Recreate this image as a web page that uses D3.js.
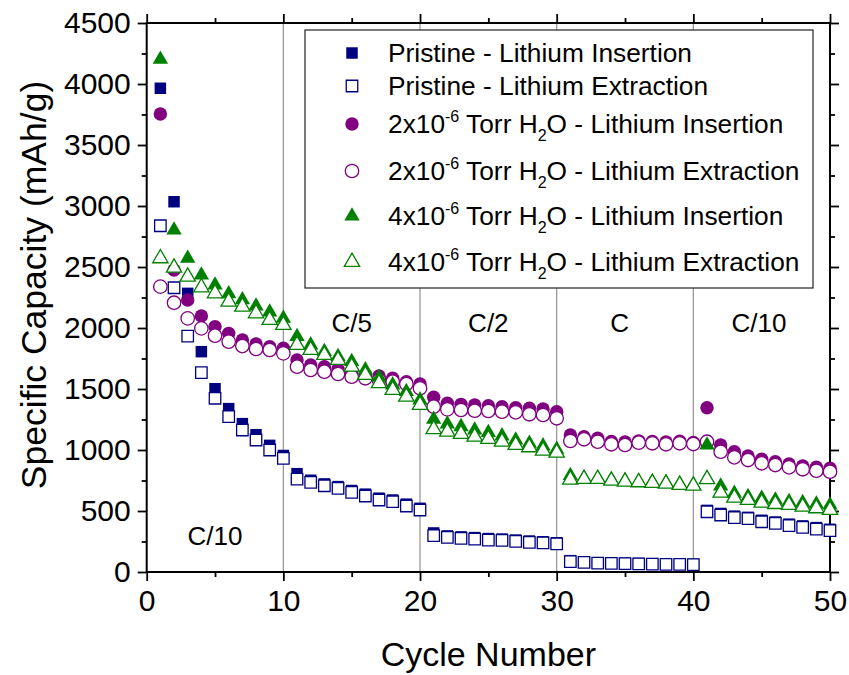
<!DOCTYPE html>
<html>
<head>
<meta charset="utf-8">
<script src="https://cdn.jsdelivr.net/npm/d3@7/dist/d3.min.js"></script>
<style>
  html, body { margin: 0; padding: 0; background: #fff; }
  svg text { font-family: "Liberation Sans", Arial, sans-serif; fill: #000; }
</style>
</head>
<body>
<svg id="chart" width="849" height="675"></svg>
<script>
// Cycle numbers (x) and capacities in mAh/g for each series
const cycles = [1,2,3,4,5,6,7,8,9,10,11,12,13,14,15,16,17,18,19,20,21,22,23,24,25,26,27,28,29,30,31,32,33,34,35,36,37,38,39,40,41,42,43,44,45,46,47,48,49,50];

const pristineInsertion = [3965, 3035, 2284, 1806, 1502, 1339, 1216, 1125, 1038, 955,
  806, 752, 722, 700, 668, 638, 605, 590, 556, 522,
  320, 296, 288, 282, 274, 270, 262, 254, 248, 240,
  93, 82, 76, 74, 72, 70, 68, 66, 65, 63,
  505, 480, 458, 448, 424, 410, 392, 378, 364, 350];
const pristineExtraction = [2838, 2330, 1934, 1634, 1424, 1273, 1164, 1082, 1000, 932,
  762, 735, 707, 686, 653, 623, 590, 576, 541, 508,
  298, 284, 276, 270, 262, 259, 251, 243, 238, 230,
  85, 79, 72, 70, 68, 66, 65, 63, 62, 60,
  494, 467, 445, 437, 412, 399, 380, 366, 352, 339];
const torr2Insertion = [3754, 2475, 2230, 2098, 2011, 1956, 1902, 1869, 1847, 1834,
  1738, 1697, 1683, 1661, 1634, 1615, 1607, 1588, 1560, 1541,
  1432, 1383, 1374, 1369, 1363, 1355, 1347, 1342, 1336, 1314,
  1123, 1109, 1096, 1070, 1065, 1075, 1070, 1065, 1072, 1062,
  1347, 1041, 986, 951, 924, 904, 885, 869, 858, 850];
const torr2Extraction = [2339, 2207, 2079, 1997, 1937, 1888, 1852, 1828, 1820, 1792,
  1683, 1656, 1642, 1623, 1601, 1588, 1574, 1560, 1541, 1506,
  1355, 1333, 1328, 1322, 1320, 1314, 1309, 1293, 1287, 1260,
  1074, 1088, 1068, 1047, 1041, 1060, 1055, 1047, 1055, 1049,
  1068, 986, 940, 918, 891, 877, 858, 842, 830, 822];
const torr4Insertion = [4202, 2803, 2571, 2434, 2352, 2280, 2230, 2180, 2130, 2080,
  1929, 1861, 1806, 1765, 1724, 1656, 1596, 1533, 1478, 1410,
  1251, 1213, 1191, 1164, 1142, 1115, 1082, 1055, 1033, 1006,
  790, 770, 768, 755, 748, 742, 737, 731, 720, 714,
  1041, 705, 645, 617, 604, 590, 576, 568, 557, 549];
const torr4Extraction = [2571, 2494, 2420, 2333, 2284, 2216, 2175, 2120, 2066, 2025,
  1861, 1820, 1779, 1738, 1683, 1615, 1547, 1492, 1437, 1369,
  1170, 1150, 1131, 1109, 1090, 1068, 1041, 1022, 994, 978,
  757, 762, 762, 748, 740, 735, 730, 724, 713, 707,
  760, 650, 609, 590, 568, 557, 549, 535, 522, 508];

// Axis ticks
const xMajorTicks = [0, 10, 20, 30, 40, 50];
const xMinorTicks = [5, 15, 25, 35, 45];
const yMajorTicks = [0, 500, 1000, 1500, 2000, 2500, 3000, 3500, 4000, 4500];
const yMinorTicks = [250, 750, 1250, 1750, 2250, 2750, 3250, 3750, 4250];
const rateBoundaries = [10, 20, 30, 40];

// C-rate annotations
const rateLabels = ["C/10", "C/5", "C/2", "C", "C/10"];
const rateLabelCycles = [5, 15, 25, 34.6, 44.8];
const rateLabelValues = [300, 2040, 2040, 2040, 2040];

// Series definitions (legend order = draw order)
const seriesNames = [
  {pre: "Pristine - Lithium Insertion"},
  {pre: "Pristine - Lithium Extraction"},
  {pre: "2x10", sup: "-6", mid: " Torr H", sub: "2", post: "O - Lithium Insertion"},
  {pre: "2x10", sup: "-6", mid: " Torr H", sub: "2", post: "O - Lithium Extraction"},
  {pre: "4x10", sup: "-6", mid: " Torr H", sub: "2", post: "O - Lithium Insertion"},
  {pre: "4x10", sup: "-6", mid: " Torr H", sub: "2", post: "O - Lithium Extraction"}
];
const seriesValues = [pristineInsertion, pristineExtraction, torr2Insertion, torr2Extraction, torr4Insertion, torr4Extraction];
const seriesColors = ["#000080", "#000080", "#800080", "#800080", "#008000", "#008000"];
const seriesShapes = ["square", "square", "circle", "circle", "triangle", "triangle"];
const seriesFilled = [true, false, true, false, true, false];

const svg = d3.select("#chart");
const x = d3.scaleLinear().domain([0, 50]).range([146.7, 830]);
const y = d3.scaleLinear().domain([0, 4500]).range([572, 23]);

const symbolType = {square: d3.symbolSquare, circle: d3.symbolCircle, triangle: d3.symbolTriangle};
const symbolSize = {square: 132, circle: 142, triangle: 102};
const symbolPath = s => d3.symbol().type(symbolType[s]).size(symbolSize[s])();

// Vertical separators between rate segments
svg.append("g").selectAll("line").data(rateBoundaries).join("line")
  .attr("x1", d => x(d)).attr("x2", d => x(d))
  .attr("y1", y(0)).attr("y2", y(4500))
  .attr("stroke", "#9a9a9a").attr("stroke-width", 1.3);

// Axes with major/minor ticks on all four sides
function styleAxis(g) {
  g.select(".domain").remove();
  g.selectAll(".tick line").attr("stroke", "#000").attr("stroke-width", 1.8);
}
const tickFont = 30;
svg.append("g").attr("transform", `translate(0,${y(0)})`)
  .call(d3.axisBottom(x).tickValues(xMajorTicks).tickSize(9).tickPadding(9).tickFormat(d3.format("d")))
  .call(styleAxis)
  .selectAll("text").attr("font-size", tickFont).attr("font-family", "Liberation Sans, Arial, sans-serif");
svg.append("g").attr("transform", `translate(0,${y(0)})`)
  .call(d3.axisBottom(x).tickValues(xMinorTicks).tickSize(5).tickFormat(""))
  .call(styleAxis);
svg.append("g").attr("transform", `translate(0,${y(4500)})`)
  .call(d3.axisTop(x).tickValues(xMajorTicks).tickSize(9).tickFormat(""))
  .call(styleAxis);
svg.append("g").attr("transform", `translate(0,${y(4500)})`)
  .call(d3.axisTop(x).tickValues(xMinorTicks).tickSize(5).tickFormat(""))
  .call(styleAxis);
svg.append("g").attr("transform", `translate(${x(0)},0)`)
  .call(d3.axisLeft(y).tickValues(yMajorTicks).tickSize(9).tickPadding(7).tickFormat(d3.format("d")))
  .call(styleAxis)
  .selectAll("text").attr("font-size", tickFont).attr("font-family", "Liberation Sans, Arial, sans-serif");
svg.append("g").attr("transform", `translate(${x(0)},0)`)
  .call(d3.axisLeft(y).tickValues(yMinorTicks).tickSize(5).tickFormat(""))
  .call(styleAxis);
svg.append("g").attr("transform", `translate(${x(50)},0)`)
  .call(d3.axisRight(y).tickValues(yMajorTicks).tickSize(9).tickFormat(""))
  .call(styleAxis);
svg.append("g").attr("transform", `translate(${x(50)},0)`)
  .call(d3.axisRight(y).tickValues(yMinorTicks).tickSize(5).tickFormat(""))
  .call(styleAxis);

// Plot frame
svg.append("rect")
  .attr("x", x(0)).attr("y", y(4500))
  .attr("width", x(50) - x(0)).attr("height", y(0) - y(4500))
  .attr("fill", "none").attr("stroke", "#000").attr("stroke-width", 2);

// Rate labels
svg.append("g").selectAll("text").data(rateLabels).join("text")
  .attr("x", (d, i) => x(rateLabelCycles[i]))
  .attr("y", (d, i) => y(rateLabelValues[i]))
  .attr("dy", "0.36em")
  .attr("text-anchor", "middle")
  .attr("font-size", 26)
  .text(d => d);

// Data markers
seriesValues.forEach((vals, si) => {
  const shape = seriesShapes[si];
  svg.append("g").selectAll("path").data(cycles).join("path")
    .attr("d", symbolPath(shape))
    .attr("transform", (c, i) => `translate(${x(c)},${y(vals[i])})`)
    .attr("fill", seriesFilled[si] ? seriesColors[si] : "#fff")
    .attr("stroke", seriesColors[si])
    .attr("stroke-width", seriesFilled[si] ? 0 : 1.3);
});

// Legend
const legend = svg.append("g");
legend.append("rect")
  .attr("x", 305).attr("y", 30).attr("width", 508).attr("height", 258)
  .attr("fill", "#fff").attr("stroke", "#222").attr("stroke-width", 1.2);
const legendRowY = [53, 86, 124, 171, 216, 262];
seriesNames.forEach((nm, i) => {
  const shape = seriesShapes[i];
  legend.append("path")
    .attr("d", symbolPath(shape))
    .attr("transform", `translate(352,${legendRowY[i]})`)
    .attr("fill", seriesFilled[i] ? seriesColors[i] : "#fff")
    .attr("stroke", seriesColors[i])
    .attr("stroke-width", seriesFilled[i] ? 0 : 1.3);
  const t = legend.append("text")
    .attr("x", 388).attr("y", legendRowY[i] + 9)
    .attr("font-size", 26.3);
  t.append("tspan").text(nm.pre);
  if (nm.sup) {
    t.append("tspan").attr("dy", -11).attr("font-size", 16).text(nm.sup);
    t.append("tspan").attr("dy", 11).text(nm.mid);
    t.append("tspan").attr("dy", 8).attr("font-size", 16).text(nm.sub);
    t.append("tspan").attr("dy", -8).text(nm.post);
  }
});

// Axis titles
svg.append("text")
  .attr("x", x(25)).attr("y", 666)
  .attr("text-anchor", "middle").attr("font-size", 34)
  .text("Cycle Number");
svg.append("text")
  .attr("transform", "translate(33,285) rotate(-90)")
  .attr("dy", "0.36em")
  .attr("text-anchor", "middle").attr("font-size", 35.5)
  .text("Specific Capacity (mAh/g)");
</script>
</body>
</html>
